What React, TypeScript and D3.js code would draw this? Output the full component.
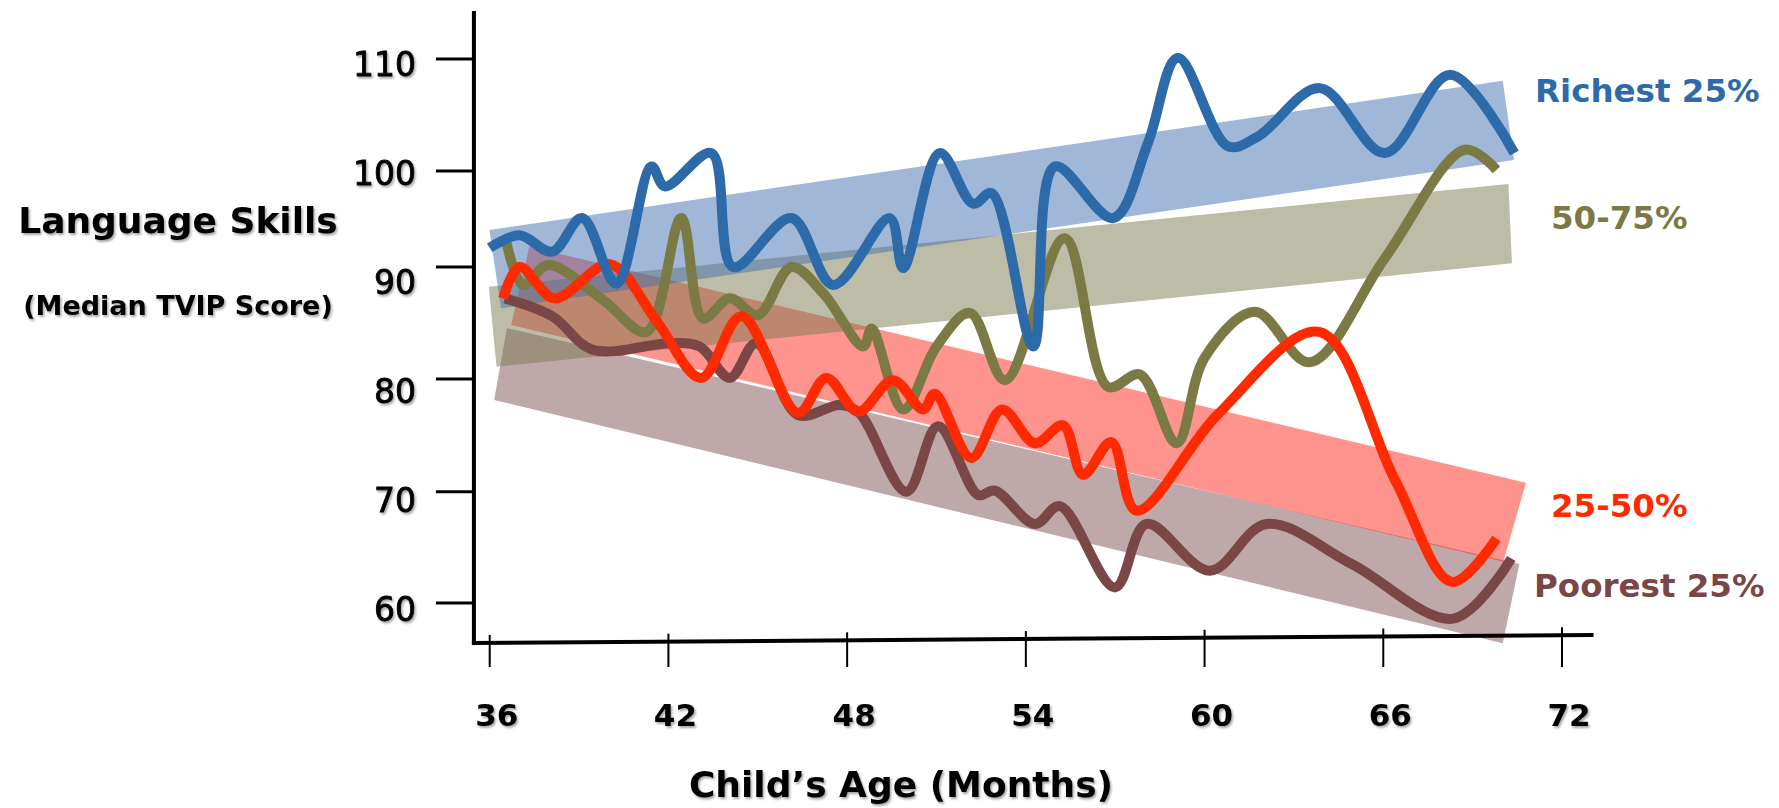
import React from 'react';
import * as d3 from 'd3';

// ---- data (month, median TVIP score) ----
type Pt = [number, number];

const richest: Pt[] = [
  [36.0, 92.0], [37.0, 93.3], [38.1, 91.6], [39.1, 95.1], [40.25, 88.5], [41.43, 100.4],
  [41.88, 98.4], [43.44, 101.6], [44.17, 90.0], [46.13, 95.1], [47.53, 88.4], [49.43, 95.1],
  [49.88, 89.9], [51.11, 101.6], [52.23, 96.6], [52.85, 97.7], [54.25, 82.9], [54.97, 100.4],
  [56.93, 95.1], [58.1, 102.5], [59.1, 110.1], [60.79, 102.2], [61.8, 103.1], [63.87, 107.4],
  [66.05, 101.6], [68.24, 108.6], [70.4, 101.6],
];

const upperMiddle: Pt[] = [
  [36.56, 92.6], [37.12, 88.4], [37.96, 90.2], [39.81, 87.05], [41.26, 84.2], [42.43, 95.1],
  [43.16, 85.4], [44.06, 87.2], [45.0, 85.7], [46.13, 90.0], [47.2, 87.65], [48.54, 82.9],
  [48.82, 84.5], [49.88, 77.3], [51.0, 82.9], [52.12, 85.9], [53.3, 79.9], [55.3, 93.0],
  [56.76, 79.3], [57.83, 80.4], [59.06, 74.3], [60.0, 81.9], [61.69, 86.0], [63.53, 81.5],
  [66.05, 90.9], [68.74, 101.9], [69.8, 100.1],
];

const lowerMiddle: Pt[] = [
  [36.45, 87.2], [37.0, 90.0], [38.18, 87.2], [40.03, 90.3], [41.6, 85.2], [43.1, 80.1],
  [44.45, 85.6], [46.35, 77.0], [47.3, 80.1], [48.37, 77.1], [49.54, 79.9], [50.55, 77.3],
  [50.94, 78.7], [52.17, 73.0], [53.2, 77.3], [54.3, 74.3], [55.25, 75.9], [55.92, 71.5],
  [56.87, 74.4], [57.71, 68.3], [60.46, 76.9], [63.85, 84.2], [66.4, 71.0], [68.3, 61.9],
  [69.8, 65.8],
];

const poorest: Pt[] = [
  [36.51, 87.2], [38.1, 85.6], [39.47, 82.6], [42.04, 83.2], [43.05, 82.9], [44.06, 80.1],
  [44.95, 83.2], [46.35, 76.8], [47.75, 77.7], [48.4, 77.0], [49.99, 70.0], [51.05, 75.8],
  [52.4, 69.7], [52.96, 70.1], [54.3, 67.1], [55.14, 68.7], [56.99, 61.4], [58.05, 67.1],
  [60.18, 62.9], [62.08, 67.1], [64.94, 63.5], [68.35, 58.6], [70.3, 64.0],
];

// trend bands (corners, clockwise from top-left)
const richestBand: Pt[] = [[35.99, 93.85], [70.01, 108.06], [70.39, 100.98], [36.38, 86.31]];
const upperMiddleBand: Pt[] = [[35.97, 88.24], [70.2, 98.65], [70.32, 90.39], [36.23, 81.1]];
const lowerMiddleBand: Pt[] = [[37.33, 92.11], [70.79, 70.8], [70.03, 63.71], [36.72, 84.82]];
const poorestBand: Pt[] = [[36.58, 84.55], [70.57, 63.5], [70.01, 56.38], [36.15, 78.14]];

const xTicks = [36, 42, 48, 54, 60, 66, 72];
const yTicks = [60, 70, 80, 90, 100, 110];

const groups = [
  { name: 'Poorest 25%', line: poorest, band: poorestBand, color: '#7a4646', bandColor: '#7f5155', label: [1534, 597] },
  { name: '25-50%', line: lowerMiddle, band: lowerMiddleBand, color: '#ff2a00', bandColor: '#ff2a20', label: [1551, 517] },
  { name: '50-75%', line: upperMiddle, band: upperMiddleBand, color: '#7b7a45', bandColor: '#7b7a50', label: [1551, 229] },
  { name: 'Richest 25%', line: richest, band: richestBand, color: '#2c6aaa', bandColor: '#4470b0', label: [1535, 102] },
];

const W = 1779;
const H = 808;
const FONT = '"DejaVu Sans", Verdana, sans-serif';

export default function App() {
  // hand drawn axis: tick spacing is not quite even
  const x = d3.scaleLinear().domain([36, 72]).range([489.7, 1562]);
  const y = d3.scaleLinear().domain(yTicks).range([603, 491.7, 379, 267, 171, 59]);
  const yLabel = d3.scaleLinear().domain([60, 110]).range([609, 64.6]);

  const line = d3.line<Pt>()
    .x(d => x(d[0]))
    .y(d => y(d[1]))
    .curve(d3.curveCatmullRom.alpha(0.5));

  const poly = (pts: Pt[]) => pts.map(p => `${x(p[0])},${y(p[1])}`).join(' ');

  const axisX = x(35.47);
  const xAxisEnd = x(73.06);
  const axisY0 = 643; // slanted baseline
  const axisY1 = 635;
  const baseAt = (px: number) => axisY0 + (axisY1 - axisY0) * (px - axisX) / (xAxisEnd - axisX);

  // lines: brown, olive, red, blue on top
  const lineOrder = [groups[0], groups[2], groups[1], groups[3]];

  return (
    <svg width={W} height={H} style={{ position: 'absolute', left: 0, top: 0, background: '#fff' }}
      fontFamily={FONT}>
      <defs>
        <filter id="shadow" x="-10%" y="-30%" width="120%" height="160%">
          <feDropShadow dx="1.5" dy="2" stdDeviation="1.2" floodColor="#000" floodOpacity="0.35" />
        </filter>
      </defs>

      {/* bands */}
      {groups.map(g => (
        <polygon key={g.name + '-band'} points={poly(g.band)} fill={g.bandColor} fillOpacity={0.5} />
      ))}

      {/* lines */}
      {lineOrder.map(g => (
        <path key={g.name + '-line'} d={line(g.line) || ''} fill="none" stroke={g.color}
          strokeWidth={10} strokeLinejoin="round" strokeLinecap="butt" />
      ))}

      {/* y axis */}
      <line x1={axisX} y1={11} x2={axisX} y2={axisY0 + 2} stroke="#000" strokeWidth={4} />
      {yTicks.map(t => (
        <g key={'yt' + t}>
          <line x1={axisX - 38} x2={axisX} y1={y(t)} y2={y(t)} stroke="#000" strokeWidth={3} />
          <text x={416} y={yLabel(t)} dy="0.36em" textAnchor="end" fontSize={33} fill="#000"
            stroke="#000" strokeWidth={0.8} filter="url(#shadow)">{t}</text>
        </g>
      ))}

      {/* x axis */}
      <line x1={axisX - 2} y1={axisY0} x2={xAxisEnd} y2={axisY1} stroke="#000" strokeWidth={4} />
      {xTicks.map(t => (
        <g key={'xt' + t}>
          <line x1={x(t)} x2={x(t)} y1={baseAt(x(t)) - 8} y2={667} stroke="#000" strokeWidth={2} />
          <text x={x(t) + 7} y={726} textAnchor="middle" fontSize={31} fontWeight="bold" fill="#000"
            filter="url(#shadow)">{t}</text>
        </g>
      ))}

      {/* axis titles */}
      <text x={178} y={233} textAnchor="middle" fontSize={36} fontWeight="bold" fill="#000"
        filter="url(#shadow)">Language Skills</text>
      <text x={178} y={315} textAnchor="middle" fontSize={27} fontWeight="bold" fill="#000"
        filter="url(#shadow)">(Median TVIP Score)</text>
      <text x={901} y={797} textAnchor="middle" fontSize={36} fontWeight="bold" fill="#000"
        filter="url(#shadow)">Child’s Age (Months)</text>

      {/* series labels */}
      {groups.map(g => (
        <text key={g.name + '-label'} x={g.label[0]} y={g.label[1]} fontSize={32.5} fontWeight="bold"
          fill={g.color}>{g.name}</text>
      ))}
    </svg>
  );
}
